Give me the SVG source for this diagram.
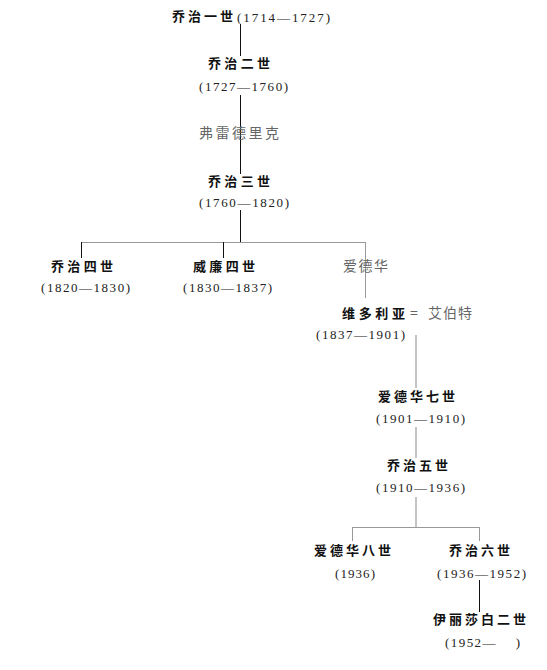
<svg xmlns="http://www.w3.org/2000/svg" width="547" height="670" viewBox="0 0 547 670">
<style>
.n{font-family:"Noto Sans CJK SC","Noto Sans",sans-serif;font-size:13px;font-weight:bold;fill:#111}
.g{font-family:"Noto Sans CJK SC","Noto Sans",sans-serif;font-size:14px;font-weight:normal;fill:#666}
.d{font-family:"Liberation Serif","Noto Sans CJK SC",serif;font-size:13px;fill:#222}
.k{stroke:#111;stroke-width:1;fill:none}
.l{stroke:#999;stroke-width:1;fill:none}
.m{stroke:#c4c4c4;stroke-width:2;fill:none}
</style>
<rect width="547" height="670" fill="#fff"/>
<g id="connectors">
<path class="k" d="M240.5 24V56M240.5 95V174M240.5 210V242"/>
<path class="l" d="M81.5 242.5H365.5"/>
<path class="k" d="M81.5 242V258M223.5 242V258"/>
<path class="l" d="M365.5 242V298"/>
<path class="m" d="M416 335V388M416 427V458M416 497V527"/>
<path class="l" d="M352 527.5H480"/>
<path class="l" d="M352.5 527V541M479.5 527V541"/>
<path class="k" d="M479.5 580V612"/>
</g>
<g id="george1"><text class="n" x="172" y="21" textLength="61" lengthAdjust="spacing">乔治一世</text><text class="d" x="237" y="21.5" textLength="93" lengthAdjust="spacing">(1714—1727)</text></g>
<g id="george2"><text class="n" x="208" y="68" textLength="62" lengthAdjust="spacing">乔治二世</text><text class="d" x="199" y="90.5" textLength="89" lengthAdjust="spacing">(1727—1760)</text></g>
<g id="frederick"><text class="g" x="199" y="138" textLength="80" lengthAdjust="spacing">弗雷德里克</text></g>
<g id="george3"><text class="n" x="208" y="186" textLength="62" lengthAdjust="spacing">乔治三世</text><text class="d" x="199" y="206.5" textLength="90" lengthAdjust="spacing">(1760—1820)</text></g>
<g id="george4"><text class="n" x="51" y="271" textLength="62" lengthAdjust="spacing">乔治四世</text><text class="d" x="41" y="291.5" textLength="89" lengthAdjust="spacing">(1820—1830)</text></g>
<g id="william4"><text class="n" x="193" y="271" textLength="62" lengthAdjust="spacing">威廉四世</text><text class="d" x="183" y="291.5" textLength="89" lengthAdjust="spacing">(1830—1837)</text></g>
<g id="edward"><text class="g" x="343" y="271" textLength="45" lengthAdjust="spacing">爱德华</text></g>
<g id="victoria"><text class="n" x="342" y="318" textLength="63" lengthAdjust="spacing">维多利亚</text><text class="g" x="410" y="318">=</text><text class="g" x="428" y="318" textLength="44" lengthAdjust="spacing">艾伯特</text><text class="d" x="316" y="338.5" textLength="89" lengthAdjust="spacing">(1837—1901)</text></g>
<g id="edward7"><text class="n" x="378" y="401" textLength="77" lengthAdjust="spacing">爱德华七世</text><text class="d" x="376" y="422.5" textLength="89" lengthAdjust="spacing">(1901—1910)</text></g>
<g id="george5"><text class="n" x="387" y="470" textLength="61" lengthAdjust="spacing">乔治五世</text><text class="d" x="376" y="491.5" textLength="89" lengthAdjust="spacing">(1910—1936)</text></g>
<g id="edward8"><text class="n" x="314" y="555" textLength="77" lengthAdjust="spacing">爱德华八世</text><text class="d" x="335" y="577.5" textLength="40" lengthAdjust="spacing">(1936)</text></g>
<g id="george6"><text class="n" x="449" y="555" textLength="61" lengthAdjust="spacing">乔治六世</text><text class="d" x="437" y="577.5" textLength="89" lengthAdjust="spacing">(1936—1952)</text></g>
<g id="elizabeth2"><text class="n" x="433" y="624" textLength="93" lengthAdjust="spacing">伊丽莎白二世</text><text class="d" x="445" y="646.5" textLength="75" lengthAdjust="spacing" xml:space="preserve">(1952—    )</text></g>
</svg>
